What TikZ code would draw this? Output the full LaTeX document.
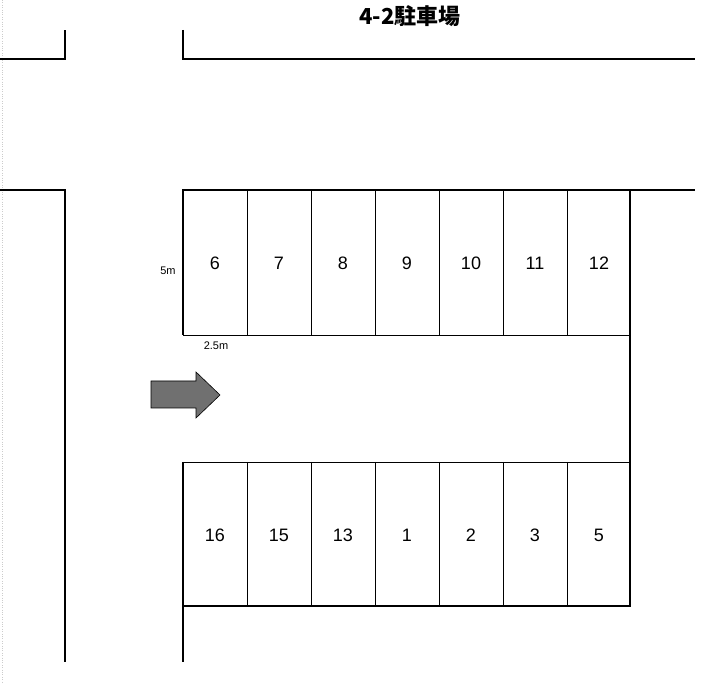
\documentclass[tikz,border=0pt]{standalone}
\usepackage{fontspec}
\setmainfont{Liberation Sans}
\newfontfamily\jpfont{Noto Sans CJK JP}
\usetikzlibrary{positioning}
\tikzset{
  wall/.style={line width=1.5pt},
  stall/.style={line width=0.8pt},
  num/.style={font=\fontsize{18}{20}\selectfont},
  dim/.style={font=\fontsize{11}{13}\selectfont}
}
\begin{document}
\begin{tikzpicture}[x=1pt,y=-1pt]
\useasboundingbox (0,0) rectangle (724,684);
\draw[gray!40, dotted] (2,0) -- (2,684); % page edge
% roads
\draw[wall] (0,59) -- (65,59) -- (65,30);
\draw[wall] (183,30) -- (183,59) -- (695,59);
\draw[wall] (0,190) -- (65,190) -- (65,662);
\draw[wall] (183,335) -- (183,190) -- (695,190);
\draw[wall] (630,190) -- (630,606) -- (183,606);
\draw[wall] (183,462) -- (183,662);
% stalls
\draw[stall] (183,335) -- (630,335);
\draw[stall] (183,462) -- (630,462);
\foreach \x in {247,311,375,439,503,567} {
  \draw[stall] (\x,190) -- (\x,335);
  \draw[stall] (\x,462) -- (\x,606);
}
\foreach \n [count=\i from 0] in {6,7,8,9,10,11,12}
  \node[num] (up\n) at (215+64*\i,263) {\n};
\foreach \n [count=\i from 0] in {16,15,13,1,2,3,5}
  \node[num] (lo\n) at (215+64*\i,535) {\n};
% sizes
\node[dim] (depth) at (168,271) {5m};
\node[dim] (width) at (216,346) {2.5m};
% entry arrow
\draw[fill=gray!60!black!80, line width=0.6pt] (151,381) -- (196,381) -- (196,372) -- (220,395)
  -- (196,418) -- (196,408) -- (151,408) -- cycle;
\node[font=\jpfont\bfseries\fontsize{22}{24}\selectfont] (title) at (410,16) {4-2駐車場};
\end{tikzpicture}
\end{document}
